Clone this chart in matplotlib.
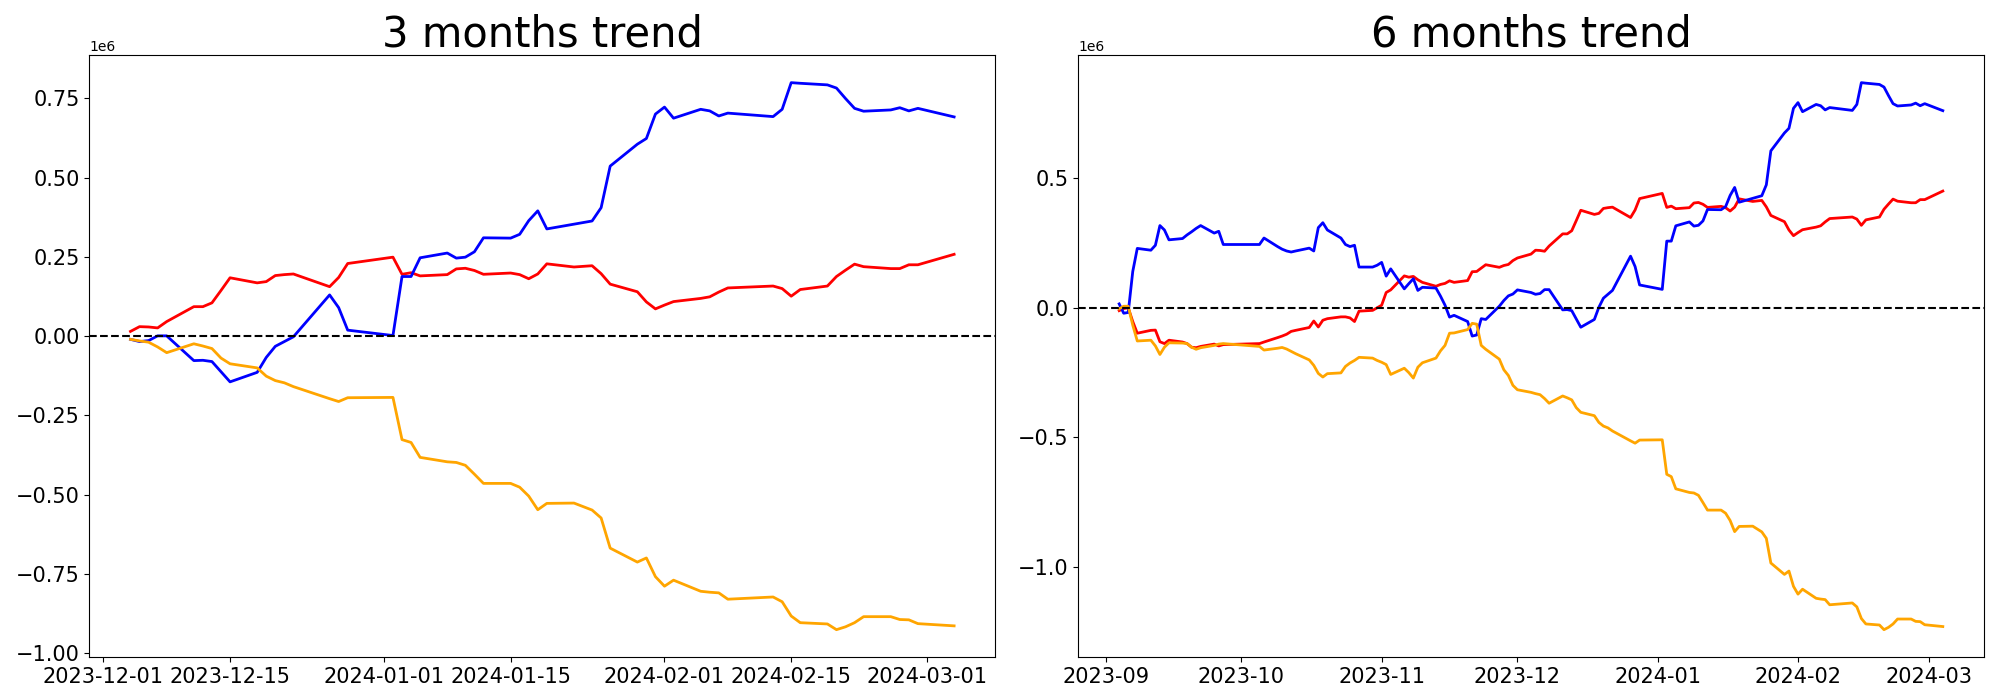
import numpy as np
import matplotlib
matplotlib.use("Agg")
import matplotlib.pyplot as plt

SCALE = 1e6  # values below are in millions

# ---------------- 3 months panel ----------------
dates_3m = ["2023-12-04", "2023-12-05", "2023-12-06", "2023-12-07", "2023-12-08",
            "2023-12-11", "2023-12-12", "2023-12-13", "2023-12-14", "2023-12-15",
            "2023-12-18", "2023-12-19", "2023-12-20", "2023-12-21", "2023-12-22",
            "2023-12-26", "2023-12-27", "2023-12-28",
            "2024-01-02", "2024-01-03", "2024-01-04", "2024-01-05",
            "2024-01-08", "2024-01-09", "2024-01-10", "2024-01-11", "2024-01-12",
            "2024-01-15", "2024-01-16", "2024-01-17", "2024-01-18", "2024-01-19",
            "2024-01-22", "2024-01-23", "2024-01-24", "2024-01-25", "2024-01-26",
            "2024-01-29", "2024-01-30", "2024-01-31", "2024-02-01", "2024-02-02",
            "2024-02-05", "2024-02-06", "2024-02-07", "2024-02-08",
            "2024-02-13", "2024-02-14", "2024-02-15", "2024-02-16",
            "2024-02-19", "2024-02-20", "2024-02-21", "2024-02-22", "2024-02-23",
            "2024-02-26", "2024-02-27", "2024-02-28", "2024-02-29",
            "2024-03-04"]

blue_3m = [-0.010, -0.017, -0.014, 0.001, 0.001,
           -0.077, -0.076, -0.080, -0.112, -0.144,
           -0.114, -0.067, -0.032, -0.017, -0.002,
           0.130, 0.090, 0.019,
           0.002, 0.188, 0.188, 0.247,
           0.262, 0.246, 0.249, 0.266, 0.310,
           0.309, 0.321, 0.364, 0.395, 0.338,
           0.353, 0.358, 0.363, 0.405, 0.536,
           0.605, 0.623, 0.700, 0.722, 0.687,
           0.715, 0.710, 0.694, 0.703,
           0.692, 0.715, 0.799, 0.797,
           0.792, 0.782, 0.749, 0.718, 0.709,
           0.713, 0.720, 0.710, 0.718,
           0.691]

red_3m = [0.015, 0.030, 0.029, 0.026, 0.046,
          0.093, 0.093, 0.105, 0.144, 0.184,
          0.168, 0.172, 0.191, 0.194, 0.196,
          0.156, 0.185, 0.229,
          0.249, 0.195, 0.200, 0.190,
          0.194, 0.212, 0.214, 0.207, 0.195,
          0.199, 0.194, 0.181, 0.196, 0.228,
          0.218, 0.220, 0.222, 0.197, 0.164,
          0.140, 0.108, 0.086, 0.098, 0.109,
          0.119, 0.124, 0.139, 0.152,
          0.158, 0.150, 0.126, 0.147,
          0.158, 0.188, 0.208, 0.227, 0.219,
          0.213, 0.213, 0.225, 0.225,
          0.258]

orange_3m = [-0.010, -0.015, -0.019, -0.034, -0.052,
             -0.024, -0.031, -0.039, -0.069, -0.087,
             -0.100, -0.126, -0.140, -0.147, -0.159,
             -0.197, -0.206, -0.194,
             -0.193, -0.326, -0.335, -0.382,
             -0.396, -0.398, -0.407, -0.435, -0.464,
             -0.464, -0.476, -0.504, -0.547, -0.527,
             -0.526, -0.537, -0.548, -0.573, -0.668,
             -0.712, -0.699, -0.758, -0.788, -0.769,
             -0.804, -0.807, -0.809, -0.829,
             -0.822, -0.837, -0.882, -0.903,
             -0.907, -0.925, -0.916, -0.903, -0.884,
             -0.884, -0.893, -0.894, -0.906,
             -0.913]

# ---------------- 6 months panel ----------------
dates_6m_early = ["2023-09-04", "2023-09-05", "2023-09-06", "2023-09-07", "2023-09-08",
                  "2023-09-11", "2023-09-12", "2023-09-13", "2023-09-14", "2023-09-15",
                  "2023-09-18", "2023-09-19", "2023-09-20", "2023-09-21", "2023-09-22",
                  "2023-09-25", "2023-09-26", "2023-09-27",
                  "2023-10-05", "2023-10-06",
                  "2023-10-09", "2023-10-10", "2023-10-11", "2023-10-12", "2023-10-13",
                  "2023-10-16", "2023-10-17", "2023-10-18", "2023-10-19", "2023-10-20",
                  "2023-10-23", "2023-10-24", "2023-10-25", "2023-10-26", "2023-10-27",
                  "2023-10-30", "2023-10-31", "2023-11-01", "2023-11-02", "2023-11-03",
                  "2023-11-06", "2023-11-07", "2023-11-08", "2023-11-09", "2023-11-10",
                  "2023-11-13", "2023-11-14", "2023-11-15", "2023-11-16", "2023-11-17",
                  "2023-11-20", "2023-11-21", "2023-11-22", "2023-11-23", "2023-11-24",
                  "2023-11-27", "2023-11-28", "2023-11-29", "2023-11-30", "2023-12-01"]
dates_6m = dates_6m_early + dates_3m

blue_6m = [0.015, -0.021, -0.018, 0.140, 0.229,
           0.222, 0.241, 0.317, 0.300, 0.262,
           0.267, 0.281, 0.293, 0.306, 0.317,
           0.288, 0.295, 0.244,
           0.244, 0.269,
           0.236, 0.226, 0.219, 0.215, 0.219,
           0.230, 0.219, 0.309, 0.328, 0.300,
           0.269, 0.244, 0.236, 0.241, 0.157,
           0.157, 0.164, 0.175, 0.122, 0.150,
           0.073, 0.093, 0.112, 0.067, 0.079,
           0.076, 0.045, 0.010, -0.036, -0.029,
           -0.053, -0.109, -0.105, -0.042, -0.045,
           0.006, 0.028, 0.046, 0.053, 0.069,
           # December onwards
           0.059, 0.052, 0.055, 0.070, 0.070,
           -0.008, -0.007, -0.011, -0.043, -0.075,
           -0.045, 0.002, 0.037, 0.052, 0.067,
           0.199, 0.159, 0.088,
           0.071, 0.257, 0.257, 0.316,
           0.331, 0.315, 0.318, 0.335, 0.379,
           0.378, 0.390, 0.433, 0.464, 0.407,
           0.422, 0.427, 0.432, 0.474, 0.605,
           0.674, 0.692, 0.769, 0.791, 0.756,
           0.784, 0.779, 0.763, 0.772,
           0.761, 0.784, 0.868, 0.866,
           0.861, 0.851, 0.818, 0.787, 0.778,
           0.782, 0.789, 0.779, 0.787,
           0.760]

red_6m = [-0.011, -0.003, 0.000, -0.053, -0.098,
          -0.087, -0.086, -0.131, -0.138, -0.125,
          -0.132, -0.138, -0.152, -0.154, -0.149,
          -0.140, -0.147, -0.142,
          -0.138, -0.132,
          -0.115, -0.109, -0.102, -0.091, -0.087,
          -0.076, -0.051, -0.074, -0.048, -0.042,
          -0.035, -0.035, -0.039, -0.053, -0.013,
          -0.010, 0.000, 0.010, 0.059, 0.069,
          0.123, 0.118, 0.121, 0.108, 0.098,
          0.083, 0.090, 0.094, 0.104, 0.098,
          0.105, 0.139, 0.140, 0.153, 0.166,
          0.156, 0.163, 0.167, 0.182, 0.192,
          # December onwards
          0.207, 0.222, 0.221, 0.218, 0.238,
          0.285, 0.285, 0.297, 0.336, 0.376,
          0.360, 0.364, 0.383, 0.386, 0.388,
          0.348, 0.377, 0.421,
          0.441, 0.387, 0.392, 0.382,
          0.386, 0.404, 0.406, 0.399, 0.387,
          0.391, 0.386, 0.373, 0.388, 0.420,
          0.410, 0.412, 0.414, 0.389, 0.356,
          0.332, 0.300, 0.278, 0.290, 0.301,
          0.311, 0.316, 0.331, 0.344,
          0.350, 0.342, 0.318, 0.339,
          0.350, 0.380, 0.400, 0.419, 0.411,
          0.405, 0.405, 0.417, 0.417,
          0.450]

orange_6m = [-0.004, 0.006, 0.006, -0.067, -0.128,
             -0.125, -0.147, -0.180, -0.152, -0.135,
             -0.136, -0.138, -0.152, -0.160, -0.154,
             -0.145, -0.140, -0.138,
             -0.149, -0.163,
             -0.156, -0.153, -0.159, -0.168, -0.177,
             -0.201, -0.222, -0.253, -0.267, -0.254,
             -0.251, -0.226, -0.213, -0.203, -0.191,
             -0.194, -0.203, -0.210, -0.219, -0.257,
             -0.233, -0.250, -0.271, -0.229, -0.212,
             -0.194, -0.166, -0.145, -0.098, -0.097,
             -0.084, -0.060, -0.063, -0.145, -0.160,
             -0.198, -0.239, -0.261, -0.299, -0.316,
             # December onwards
             -0.326, -0.331, -0.335, -0.350, -0.368,
             -0.340, -0.347, -0.355, -0.385, -0.403,
             -0.416, -0.442, -0.456, -0.463, -0.475,
             -0.513, -0.522, -0.510,
             -0.509, -0.642, -0.651, -0.698,
             -0.712, -0.714, -0.723, -0.751, -0.780,
             -0.780, -0.792, -0.820, -0.863, -0.843,
             -0.842, -0.853, -0.864, -0.889, -0.984,
             -1.028, -1.015, -1.074, -1.104, -1.085,
             -1.120, -1.123, -1.125, -1.145,
             -1.138, -1.153, -1.198, -1.219,
             -1.223, -1.241, -1.232, -1.219, -1.200,
             -1.200, -1.209, -1.210, -1.222,
             -1.229]

titles = ["3 months trend", "6 months trend"]

fig = plt.figure(figsize=(20, 7), dpi=100)
ax1 = fig.add_axes([0.04465, 0.0614, 0.453, 0.8596])
ax2 = fig.add_axes([0.539, 0.0614, 0.453, 0.8596])

panels = [
    (ax1, dates_3m, red_3m, blue_3m, orange_3m, titles[0]),
    (ax2, dates_6m, red_6m, blue_6m, orange_6m, titles[1]),
]

for ax, dates, red, blue, orange, title in panels:
    x = np.array(dates, dtype="datetime64[D]")
    ax.plot(x, np.array(red) * SCALE, color="red", linewidth=2)
    ax.plot(x, np.array(blue) * SCALE, color="blue", linewidth=2)
    ax.plot(x, np.array(orange) * SCALE, color="orange", linewidth=2)
    ax.axhline(0, color="black", linestyle="--", linewidth=1.5)
    ax.set_title(title, fontsize=30)
    ax.tick_params(axis="both", labelsize=15)

fig.savefig("out.png", dpi=100)
